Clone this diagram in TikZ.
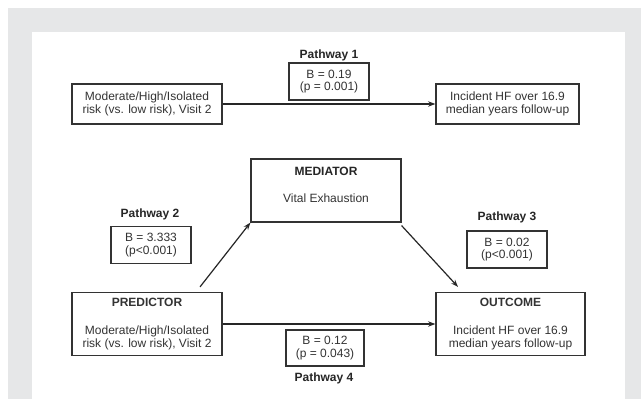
\documentclass[tikz,border=0pt]{standalone}
\usepackage{fontspec}
\setmainfont{Liberation Sans}
\usetikzlibrary{arrows.meta}
\definecolor{framegray}{HTML}{E6E7E8}
\definecolor{ink}{HTML}{333333}
\tikzset{
  txt/.style={inner sep=0pt,align=center,text=ink,font=\fontsize{9}{9.6}\selectfont},
  box/.style={txt,draw=ink,line width=0.9pt},
  pbox/.style={box,minimum width=60pt,minimum height=27.75pt},
  lbl/.style={txt,font=\fontsize{9}{9.6}\selectfont\bfseries,text=black!85},
  arrow/.style={draw=black!85,line width=0.9pt,-{Stealth[length=5.5pt,width=4pt]}}
}

\begin{document}
\begin{tikzpicture}[x=0.75pt,y=-0.75pt]

\useasboundingbox (0,0) rectangle (641,399);
\fill[framegray] (8,8) rectangle (641,399);
\fill[white] (32,32) rectangle (625,399);

% total effect
\node[box,minimum width=112.5pt,minimum height=30pt] (risk1) at (147,104)
  {Moderate/High/Isolated\\risk (vs. low risk), Visit 2};
\node[box,minimum width=107.25pt,minimum height=30pt] (hf1) at (507.5,104)
  {Incident HF over 16.9\\median years follow-up};
\node[pbox] (p1) at (329,81.5) {B = 0.19\\(p = 0.001)};
\node[lbl] (pw1) at (329,55) {Pathway 1};

\draw[arrow] (risk1.east) -- (hf1.west);

% mediation model
\node[box,minimum width=112.5pt,minimum height=47.25pt] (med) at (326,190.5) {};
\node[lbl] (medtitle) at (326,171) {MEDIATOR};
\node[txt] (medtext) at (326,198) {Vital Exhaustion};

\node[box,minimum width=112.5pt,minimum height=47.25pt] (pred) at (147,324)
  {\textbf{PREDICTOR}\\[11.5pt]Moderate/High/Isolated\\risk (vs. low risk), Visit 2};
\node[box,minimum width=111.75pt,minimum height=47.25pt] (out) at (510.5,324)
  {\textbf{OUTCOME}\\[11.5pt]Incident HF over 16.9\\median years follow-up};

\node[pbox] (p2) at (151,245) {B = 3.333\\(p<0.001)};
\node[lbl] (pw2) at (150,214) {Pathway 2};
\node[pbox] (p3) at (507,249.5) {B = 0.02\\(p<0.001)};
\node[lbl] (pw3) at (507,217) {Pathway 3};
\node[pbox,minimum width=58.5pt,minimum height=27pt] (p4) at (325,348) {B = 0.12\\(p = 0.043)};
\node[lbl] (pw4) at (324,378) {Pathway 4};

\draw[arrow] ([shift={(53,-5)}]pred.north) -- (med.south west);
\draw[arrow] ([shift={(0,3)}]med.south east) -- ([shift={(-52.5,-5)}]out.north);
\draw[arrow] (pred.east) -- (out.west);

\end{tikzpicture}
\end{document}
